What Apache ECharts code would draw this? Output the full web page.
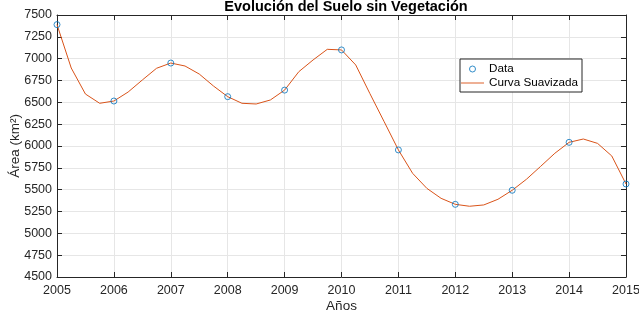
<!DOCTYPE html>
<html>
<head>
<meta charset="utf-8">
<title>Evolución del Suelo sin Vegetación</title>
<style>
body{margin:0;padding:0;background:#fff;}
#main{width:639px;height:313px;}
</style>
</head>
<body>
<div id="main"></div>
<script src="https://cdn.jsdelivr.net/npm/echarts@6/dist/echarts.min.js"></script>
<script>
// datos anuales
var years=[2005,2006,2007,2008,2009,2010,2011,2012,2013,2014,2015];
var area=[7390,6515,6950,6565,6640,7100,5955,5332,5493,6042,5565];
// curva suavizada (cada trimestre)
var smoothX=[2005,2005.25,2005.5,2005.75,2006,2006.25,2006.5,2006.75,2007,2007.25,2007.5,2007.75,
  2008,2008.25,2008.5,2008.75,2009,2009.25,2009.5,2009.75,2010,2010.25,2010.5,2010.75,
  2011,2011.25,2011.5,2011.75,2012,2012.25,2012.5,2012.75,2013,2013.25,2013.5,2013.75,
  2014,2014.25,2014.5,2014.75,2015];
var smoothY=[7390,6893,6595,6489,6515,6618,6756,6890,6950,6916,6824,6687,
  6565,6489,6481,6527,6640,6851,6985,7107,7100,6928,6599,6278,
  5955,5687,5515,5401,5332,5310,5325,5390,5493,5619,5767,5917,
  6042,6080,6030,5886,5565];

var fontF='"Liberation Sans", Arial, sans-serif';
var axisCol='#262626';
var gridCol='#e6e6e6';
var blue='#0072BD', orange='#D95319';

var chart=echarts.init(document.getElementById('main'));
var option={
  animation:false,
  textStyle:{fontFamily:fontF},
  title:{
    text:'Evolución del Suelo sin Vegetación',
    left:341, textAlign:'center', top:-6,
    textStyle:{fontSize:14.5,fontWeight:'bold',color:'#000',fontFamily:fontF}
  },
  legend:{
    left:460, top:59, orient:'vertical', align:'left',
    backgroundColor:'#fff', borderColor:axisCol, borderWidth:1,
    padding:[4,4,3,1], itemGap:2, itemWidth:23, itemHeight:6,
    textStyle:{fontSize:11.7,color:'#000',fontFamily:fontF},
    data:[
      {name:'Data', icon:'circle', itemStyle:{color:'rgba(0,0,0,0)',borderColor:blue,borderWidth:1}},
      {name:'Curva Suavizada', icon:'path://M0,0L100,0L100,4L0,4Z', itemStyle:{color:orange,borderWidth:0}}
    ]
  },
  grid:{left:57,right:13,top:15,bottom:36,outerBoundsMode:'none'},
  xAxis:[{
    type:'value', min:2005, max:2015, interval:1,
    name:'Años', nameLocation:'middle', nameGap:22, nameMoveOverlap:false,
    nameTextStyle:{fontSize:13.5,color:axisCol,verticalAlign:'top'},
    axisLine:{lineStyle:{color:axisCol}},
    axisTick:{inside:true,length:5,lineStyle:{color:axisCol}},
    axisLabel:{fontSize:12.5,color:axisCol,margin:7,formatter:function(v){return String(v);}},
    splitLine:{show:true,lineStyle:{color:gridCol}}
  },{
    type:'value', min:2005, max:2015, interval:1, position:'top',
    axisLine:{show:true,lineStyle:{color:axisCol}},
    axisTick:{inside:true,length:5,lineStyle:{color:axisCol}},
    axisLabel:{show:false}, splitLine:{show:false}
  }],
  yAxis:[{
    type:'value', min:4500, max:7500, interval:250,
    name:'Área (km²)', nameLocation:'middle', nameGap:35, nameMoveOverlap:false,
    nameTextStyle:{fontSize:13.5,color:axisCol,verticalAlign:'bottom'},
    axisLine:{show:true,lineStyle:{color:axisCol}},
    axisTick:{show:true,inside:true,length:5,lineStyle:{color:axisCol}},
    axisLabel:{fontSize:12.5,color:axisCol,margin:5,formatter:function(v){return String(v);}},
    splitLine:{show:true,lineStyle:{color:gridCol}}
  },{
    type:'value', min:4500, max:7500, interval:250, position:'right',
    axisLine:{show:true,lineStyle:{color:axisCol}},
    axisTick:{show:true,inside:true,length:5,lineStyle:{color:axisCol}},
    axisLabel:{show:false}, splitLine:{show:false}
  }],
  series:[{
    name:'Data', type:'scatter', symbol:'circle', symbolSize:6,
    itemStyle:{color:'rgba(0,0,0,0)',borderColor:blue,borderWidth:1},
    data:years.map(function(y,i){return [y,area[i]];}),
    z:3
  },{
    name:'Curva Suavizada', type:'line', symbol:'none', smooth:false,
    lineStyle:{color:orange,width:1},
    itemStyle:{color:orange},
    data:smoothX.map(function(x,i){return [x,smoothY[i]];}),
    z:2
  }]
};
chart.setOption(option);
</script>
</body>
</html>
